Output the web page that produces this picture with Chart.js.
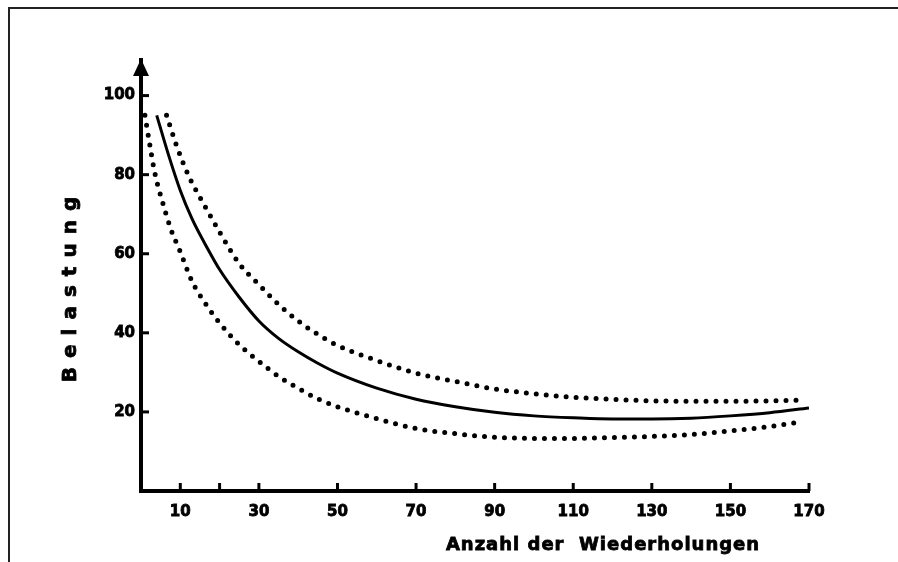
<!DOCTYPE html>
<html lang="de">
<head>
<meta charset="utf-8">
<title>Belastung und Anzahl der Wiederholungen</title>
<script src="https://cdn.jsdelivr.net/npm/chart.js@4/dist/chart.umd.min.js"></script>
<style>
  html, body { margin: 0; padding: 0; background: #fff; }
  #wrap { position: relative; width: 898px; height: 562px; overflow: hidden; }
  #frame {
    position: absolute; left: 8px; top: 7px; right: -10px; bottom: -10px;
    border-top: 2px solid #222; border-left: 2px solid #222;
  }
  #chart { position: absolute; left: 0; top: 0; }
</style>
</head>
<body>
<div id="wrap">
  <div id="frame"></div>
  <canvas id="chart" width="898" height="562"></canvas>
</div>
<script>
document.addEventListener('DOMContentLoaded', function () {
    // Mittlere Kurve
    const meanX = [4, 7, 10, 13, 17, 20, 25, 30, 35, 40, 45, 50, 60, 70, 80, 90, 100, 110, 120, 130, 140, 150, 160, 170];
    const meanY = [95, 85, 76, 68.8, 61.2, 56, 49, 43, 38.6, 35.2, 32.3, 29.8, 26, 23.2, 21.3, 19.9, 19, 18.5, 18.2, 18.2, 18.4, 19, 19.8, 21];

    // Obere Streugrenze
    const upperX = [6.5, 9, 12, 16, 20, 25, 30, 35, 40, 45, 50, 60, 70, 80, 90, 100, 110, 120, 130, 140, 150, 160, 168];
    const upperY = [95, 87.5, 80, 72.5, 65.5, 57.5, 52.2, 47.2, 43, 39.6, 36.8, 33, 29.8, 27.7, 25.8, 24.6, 23.7, 23.2, 22.8, 22.7, 22.7, 22.8, 23];

    // Untere Streugrenze
    const lowerX = [1, 2, 3.5, 5.5, 7.5, 10, 13, 16, 20, 25, 30, 35, 40, 45, 50, 60, 70, 80, 90, 100, 110, 120, 130, 140, 150, 160, 168];
    const lowerY = [95, 89, 80.5, 73, 66.5, 60.5, 53, 48, 42.5, 37, 32.8, 29, 26, 23.3, 21.3, 18.3, 15.8, 14.5, 13.6, 13.3, 13.3, 13.5, 13.8, 14.3, 15.2, 16.3, 17.5];

    const xTicks = [10, 20, 30, 50, 70, 90, 110, 130, 150, 170];
    const xLabelled = [10, 30, 50, 70, 90, 110, 130, 150, 170];
    const yTicks = [20, 40, 60, 80, 100];

    const xTitle = 'Anzahl der  Wiederholungen';
    const yTitle = 'Belastung';

    const toPoints = (xs, ys) => xs.map((x, i) => ({ x: x, y: ys[i] }));

    const tickFont = { family: 'DejaVu Sans', weight: 'bold', size: 15 };

    // kurze Teilstriche nach innen, Pfeilspitze und Achsentitel
    const axisDecor = {
        id: 'axisDecor',
        afterDraw(chart) {
            const ctx = chart.ctx;
            const xs = chart.scales.x;
            const ys = chart.scales.y;
            const left = chart.chartArea.left;
            const bottom = chart.chartArea.bottom;
            const top = chart.chartArea.top;

            ctx.save();
            ctx.strokeStyle = '#000';
            ctx.lineWidth = 3;
            xTicks.forEach(v => {
                const px = xs.getPixelForValue(v);
                ctx.beginPath();
                ctx.moveTo(px, bottom);
                ctx.lineTo(px, bottom - 8);
                ctx.stroke();
            });
            yTicks.forEach(v => {
                const py = ys.getPixelForValue(v);
                ctx.beginPath();
                ctx.moveTo(left, py);
                ctx.lineTo(left + 8, py);
                ctx.stroke();
            });

            ctx.fillStyle = '#000';
            ctx.beginPath();
            ctx.moveTo(left, top - 1);
            ctx.lineTo(left - 8, top + 16);
            ctx.lineTo(left + 8, top + 16);
            ctx.closePath();
            ctx.fill();

            ctx.lineWidth = 0.8;
            ctx.font = 'bold 18px "DejaVu Sans"';
            ctx.textBaseline = 'middle';
            ctx.letterSpacing = '1px';
            ctx.textAlign = 'center';
            ctx.fillText(xTitle, chart.chartArea.right - 206, bottom + 54);
            ctx.strokeText(xTitle, chart.chartArea.right - 206, bottom + 54);

            ctx.translate(71, 289);
            ctx.rotate(-Math.PI / 2);
            ctx.font = 'bold 20px "DejaVu Sans"';
            ctx.letterSpacing = '9px';
            ctx.fillText(yTitle, 4, 0);
            ctx.strokeText(yTitle, 4, 0);
            ctx.restore();
        }
    };

    const ctx = document.getElementById('chart').getContext('2d');
    new Chart(ctx, {
        type: 'line',
        data: {
            datasets: [{
                label: 'obere Grenze',
                data: toPoints(upperX, upperY),
                borderColor: '#000',
                borderWidth: 5,
                borderDash: [0, 10],
                borderCapStyle: 'round',
                pointRadius: 0,
                cubicInterpolationMode: 'monotone'
            }, {
                label: 'Mittelwert',
                data: toPoints(meanX, meanY),
                borderColor: '#000',
                borderWidth: 3,
                pointRadius: 0,
                cubicInterpolationMode: 'monotone'
            }, {
                label: 'untere Grenze',
                data: toPoints(lowerX, lowerY),
                borderColor: '#000',
                borderWidth: 5,
                borderDash: [0, 10],
                borderCapStyle: 'round',
                pointRadius: 0,
                cubicInterpolationMode: 'monotone'
            }]
        },
        options: {
            responsive: false,
            animation: false,
            layout: { padding: { left: 0, top: 60, right: 89, bottom: 0 } },
            plugins: { legend: { display: false }, tooltip: { enabled: false } },
            scales: {
                x: {
                    type: 'linear',
                    min: 0,
                    max: 170,
                    afterFit: s => { s.height = 71; },
                    afterBuildTicks: s => { s.ticks = xTicks.map(v => ({ value: v })); },
                    grid: { display: false, drawTicks: false },
                    border: { display: true, color: '#000', width: 4 },
                    ticks: {
                        color: '#000',
                        font: tickFont,
                        textStrokeColor: '#000',
                        textStrokeWidth: 0.8,
                        padding: 12,
                        maxRotation: 0,
                        autoSkip: false,
                        callback: v => xLabelled.includes(v) ? String(v) : ''
                    }
                },
                y: {
                    min: 0,
                    max: 109,
                    afterFit: s => { s.width = 141; },
                    afterBuildTicks: s => { s.ticks = yTicks.map(v => ({ value: v })); },
                    grid: { display: false, drawTicks: false },
                    border: { display: true, color: '#000', width: 4 },
                    ticks: {
                        color: '#000',
                        font: tickFont,
                        textStrokeColor: '#000',
                        textStrokeWidth: 0.8,
                        padding: 6,
                        callback: v => String(v)
                    }
                }
            }
        },
        plugins: [axisDecor]
    });
});
</script>
</body>
</html>
